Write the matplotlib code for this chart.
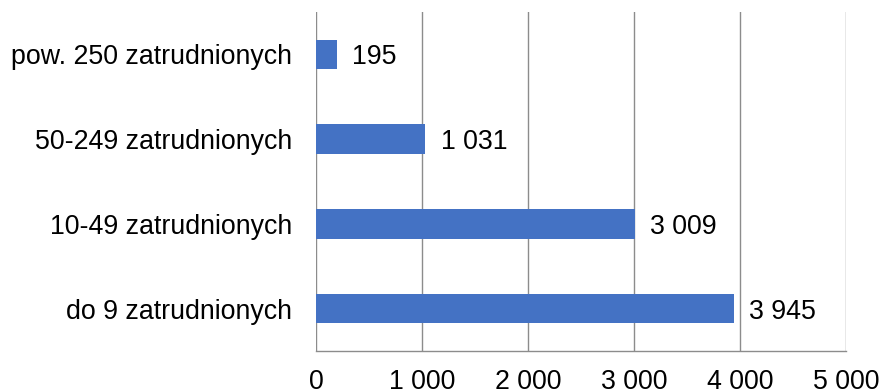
import matplotlib.pyplot as plt

categories = ['do 9 zatrudnionych', '10-49 zatrudnionych',
              '50-249 zatrudnionych', 'pow. 250 zatrudnionych']
values = [3945, 3009, 1031, 195]
xticks = [0, 1000, 2000, 3000, 4000, 5000]


def fmt(v):
    return f'{v:,}'.replace(',', ' ')


plt.rcParams['font.family'] = ['Liberation Sans', 'DejaVu Sans']

fig = plt.figure(figsize=(8.81, 3.92), dpi=100)
ax = fig.add_axes([316 / 881, 41 / 392, 530 / 881, 339 / 392])

bar_color = '#4472C4'
grid_color = '#8C8C8C'
fs = 19.3

ax.barh(range(len(categories)), values, height=0.35, color=bar_color, zorder=3)
for i, v in enumerate(values):
    ax.annotate(fmt(v), xy=(v, i), xytext=(11, 0), textcoords='offset points',
                va='center_baseline', ha='left', fontsize=fs, color='black')

ax.set_xlim(0, 5000)
ax.set_ylim(-0.5, len(categories) - 0.5)
ax.set_xticks(xticks)
ax.set_xticklabels([fmt(t) for t in xticks])
ax.set_yticks(range(len(categories)))
ax.set_yticklabels(categories, va='center_baseline')
ax.tick_params(axis='x', length=0, pad=13, labelsize=fs)
ax.tick_params(axis='y', length=0, pad=17, labelsize=fs)

ax.grid(axis='x', color=grid_color, linewidth=1.0, zorder=0)
for s in ['top', 'right', 'left']:
    ax.spines[s].set_visible(False)
ax.spines['bottom'].set_color(grid_color)
ax.spines['bottom'].set_linewidth(1.0)

fig.savefig('out.png', dpi=100)
